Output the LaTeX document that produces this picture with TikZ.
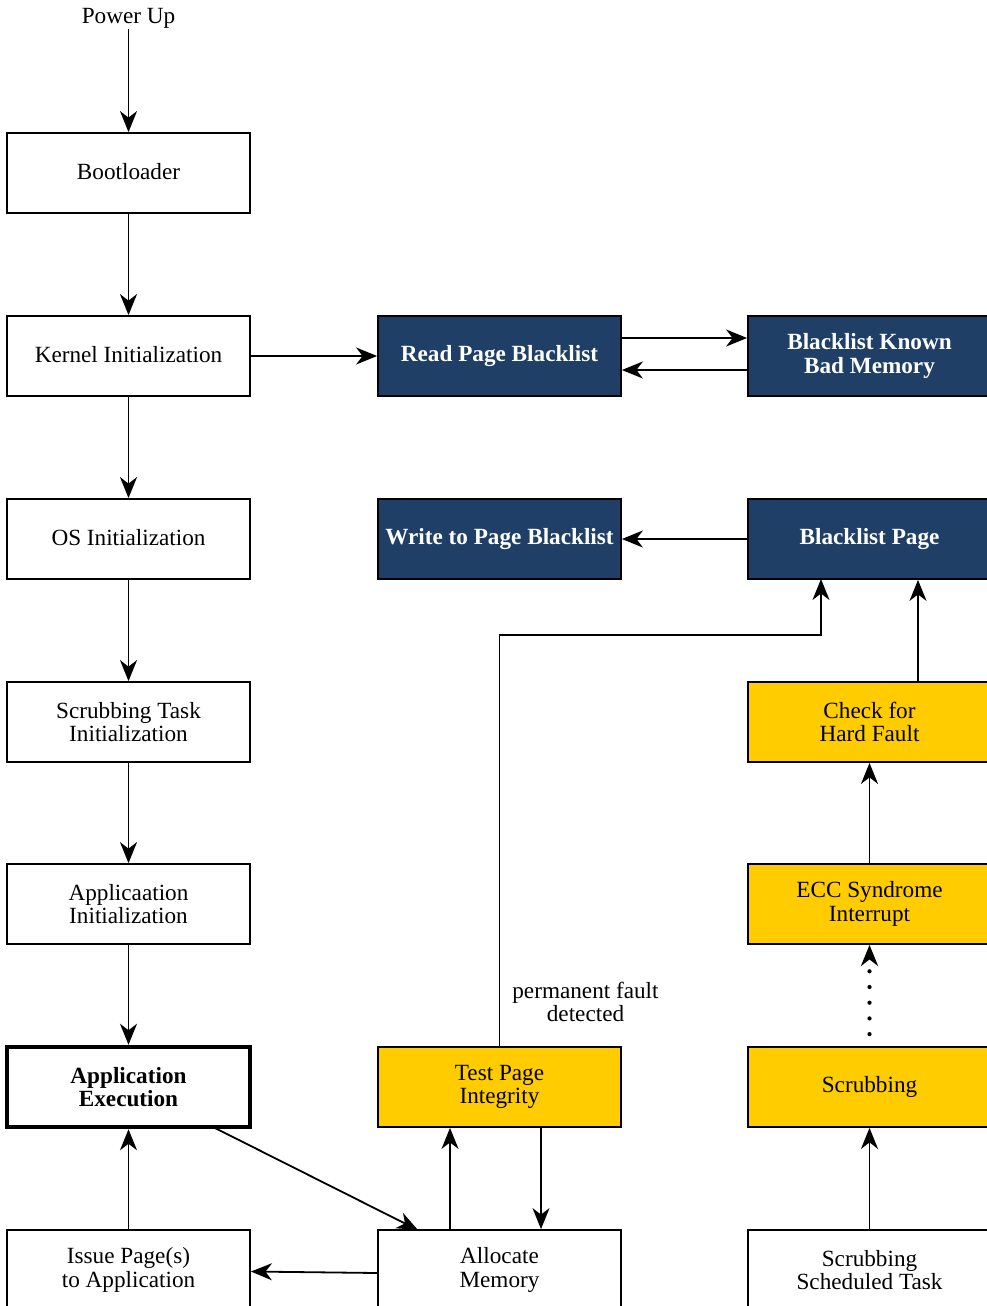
\documentclass[tikz,border=0pt]{standalone}
\usepackage{fontspec}
\setmainfont{Liberation Serif}
\usetikzlibrary{arrows.meta}
\definecolor{navy}{HTML}{1F3F66}
\definecolor{gold}{HTML}{FFCC00}
\newcommand{\diagfont}{\fontsize{23.2}{23.5}\selectfont}
\tikzset{
  box/.style={draw=black, line width=1.8pt, minimum width=243pt, minimum height=80pt,
    inner sep=0pt, align=center, font=\diagfont},
  plain/.style={box, fill=white},
  dark/.style={box, fill=navy, text=white, font=\diagfont\bfseries},
  warn/.style={box, fill=gold},
  heavy/.style={box, fill=white, line width=4.5pt, font=\diagfont\bfseries},
  flow/.style={line width=1.8pt, -{Stealth[length=21pt,width=17pt,inset=6.5pt]}},
  dotflow/.style={flow, dash pattern=on 0pt off 15.7pt, line cap=round, line width=4.2pt},
  lbl/.style={align=center, inner sep=0pt, font=\diagfont}
}
\begin{document}
\begin{tikzpicture}[x=1pt, y=-1pt]
\useasboundingbox (0,0) rectangle (987,1306);
\begin{scope}
\clip (0,0) rectangle (987,1306);
% left column
\node[lbl] (pwr) at (128.5,18) {Power Up};
\node[plain] (boot) at (128.5,173) {\raisebox{2.5pt}{Bootloader}};
\node[plain] (kern) at (128.5,356) {\raisebox{2.5pt}{Kernel Initialization}};
\node[plain] (os) at (128.5,539) {\raisebox{2.5pt}{OS Initialization}};
\node[plain] (scrinit) at (128.5,722) {Scrubbing Task\\Initialization};
\node[plain] (appinit) at (128.5,904) {Applicaation\\Initialization};
\node[heavy] (appexec) at (128.5,1087) {Application\\Execution};
\node[plain] (issue) at (128.5,1270) {Issue Page(s)\\to Application};
% middle column
\node[dark] (rpb) at (499.5,356) {\raisebox{2.5pt}{Read Page Blacklist}};
\node[dark] (wpb) at (499.5,539) {\raisebox{2.5pt}{Write to Page Blacklist}};
\node[warn] (tpi) at (499.5,1087) {Test Page\\Integrity};
\node[plain] (alloc) at (499.5,1270) {Allocate\\Memory};
% right column
\node[dark] (bkbm) at (869.5,356) {Blacklist Known\\Bad Memory};
\node[dark] (blp) at (869.5,539) {\raisebox{2.5pt}{Blacklist Page}};
\node[warn] (chk) at (869.5,722) {Check for\\Hard Fault};
\node[warn] (ecc) at (869.5,904) {ECC Syndrome\\Interrupt};
\node[warn] (scr) at (869.5,1087) {\raisebox{2.5pt}{Scrubbing}};
\node[plain] (sst) at (869.5,1270) {Scrubbing\\Scheduled Task};
\node[lbl] (pfd) at (585.5,1002) {permanent fault\\detected};

% main boot sequence
\draw[flow] ([yshift=-1pt]pwr.south) -- (boot.north);
\draw[flow] (boot) -- (kern);
\draw[flow] (kern) -- (os);
\draw[flow] (os) -- (scrinit);
\draw[flow] (scrinit) -- (appinit);
\draw[flow] (appinit) -- (appexec);
\draw[flow] (issue) -- (appexec);
% blacklist handling
\draw[flow] (kern) -- (rpb);
\draw[flow] ([yshift=18pt]rpb.east) -- ([yshift=18pt]bkbm.west);
\draw[flow] ([yshift=-14pt]bkbm.west) -- ([yshift=-14pt]rpb.east);
\draw[flow] (blp) -- (wpb);
\draw[flow] (tpi.north) |- (821,635) -- (821,579);
\draw[flow] ([xshift=48.5pt]chk.north) -- ([xshift=48.5pt]blp.south);
\draw[flow] (ecc) -- (chk);
\draw[dotflow] ([yshift=12pt]scr.north) -- (ecc.south);
\draw[flow] (sst) -- (scr);
% memory allocation loop
\draw[flow] (213,1127) -- (418,1230);
\draw[flow] ([xshift=-49.5pt]alloc.north) -- ([xshift=-49.5pt]tpi.south);
\draw[flow] ([xshift=41.5pt]tpi.south) -- ([xshift=41.5pt]alloc.north);
\draw[flow] ([yshift=-3pt]alloc.west) -- ([yshift=-1.5pt]issue.east);
\end{scope}
\end{tikzpicture}
\end{document}
